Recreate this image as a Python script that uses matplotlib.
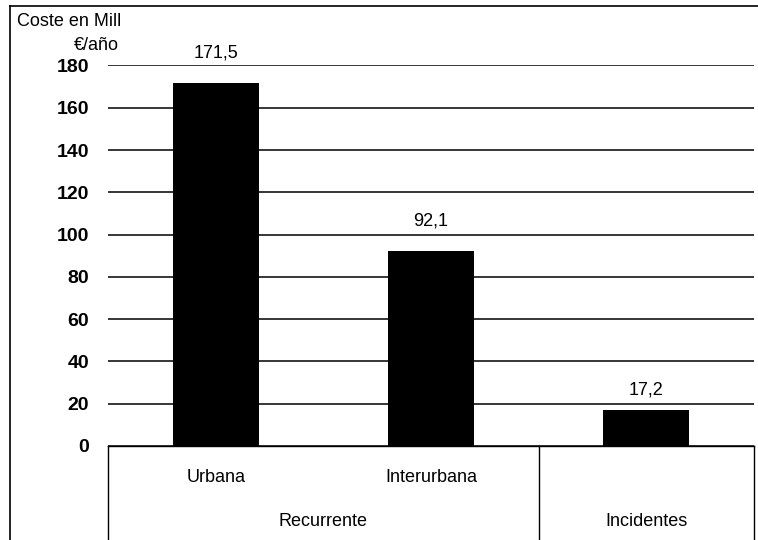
import matplotlib
matplotlib.use("Agg")
import matplotlib.pyplot as plt
from matplotlib.lines import Line2D

plt.rcParams['font.family'] = ['Liberation Sans', 'DejaVu Sans']

# Data
subcategories = ["Urbana", "Interurbana", "Incidentes"]
groups = ["Recurrente", "Incidentes"]
group_sizes = [2, 1]
costs = [171.5, 92.1, 17.2]
value_labels = ["171,5", "92,1", "17,2"]
y_ticks = [0, 20, 40, 60, 80, 100, 120, 140, 160, 180]

# Vertical gap (points) between each bar top and its value label
label_gaps = [16, 16, 8]

W, H = 758, 540
fig = plt.figure(figsize=(W / 100, H / 100), dpi=100)

def fx(px):
    return px / W

def fy(py):
    return 1 - py / H

left_px, right_px, top_px, bottom_px = 108, 754, 65.5, 446
ax = fig.add_axes([fx(left_px), fy(bottom_px), fx(right_px) - fx(left_px), fy(top_px) - fy(bottom_px)])

x = list(range(len(costs)))
ax.bar(x, costs, width=0.4, color="black", zorder=3)
ax.set_xlim(-0.5, len(costs) - 0.5)
ax.set_ylim(0, 180)
ax.set_yticks(y_ticks)
ax.set_yticklabels([str(v) for v in y_ticks], fontsize=14, fontweight="bold")
ax.tick_params(axis="y", length=0, pad=13.5)
ax.set_xticks([])
ax.grid(axis="y", color="black", linewidth=1.1, zorder=0)
for s in ax.spines.values():
    s.set_visible(False)

for xi, v, lab, gap in zip(x, costs, value_labels, label_gaps):
    ax.annotate(lab, (xi, v), xytext=(0, gap), textcoords="offset points",
                ha="center", va="bottom", fontsize=13, annotation_clip=False)

# Multi-level category axis
lw = 1.0
fig.add_artist(Line2D([fx(left_px), fx(right_px)], [fy(bottom_px), fy(bottom_px)], color="black", lw=lw))
step = (right_px - left_px) / len(costs)
bounds = [0]
for n in group_sizes:
    bounds.append(bounds[-1] + n)
for b in bounds:
    xp = left_px + b * step
    fig.add_artist(Line2D([fx(xp), fx(xp)], [fy(bottom_px), fy(H + 2)], color="black", lw=lw))

for i, name in enumerate(subcategories):
    if i < group_sizes[0]:
        fig.text(fx(left_px + (i + 0.5) * step), fy(477), name, ha="center", va="center", fontsize=13)
for g, name in enumerate(groups):
    c = (bounds[g] + bounds[g + 1]) / 2
    fig.text(fx(left_px + c * step), fy(522), name, ha="center", va="center", fontsize=13)

# Axis title
fig.text(fx(17), fy(22), "Coste en Mill", ha="left", va="center", fontsize=13)
fig.text(fx(119), fy(45), "€/año", ha="right", va="center", fontsize=13)

# Chart border
fig.add_artist(Line2D([fx(10), fx(10)], [fy(6), fy(H + 2)], color="black", lw=1.2))
fig.add_artist(Line2D([fx(10), fx(W + 2)], [fy(6), fy(6)], color="black", lw=1.2))

fig.savefig("out.png", dpi=100)
